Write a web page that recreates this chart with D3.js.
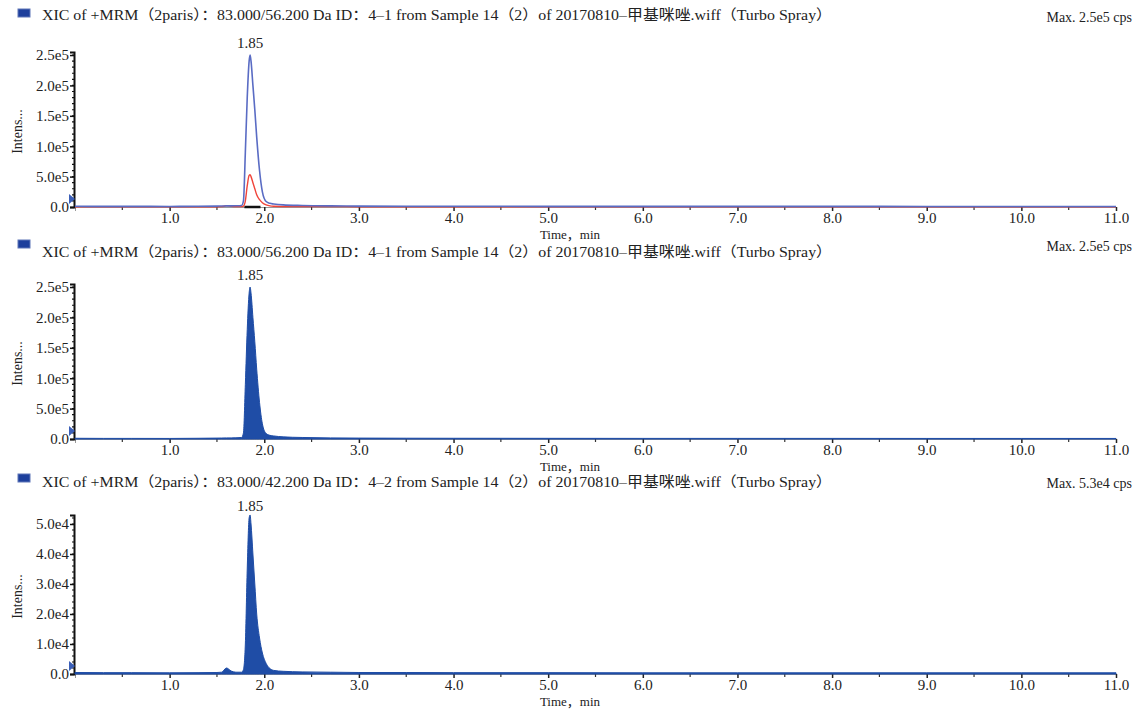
<!DOCTYPE html>
<html>
<head>
<meta charset="utf-8">
<script src="https://cdn.jsdelivr.net/npm/d3@7"></script>
<style>
  body { margin: 0; background: #fff; }
  svg { display: block; }
  text { font-family: "Liberation Serif", "Times New Roman", "DejaVu Serif", "Noto Sans CJK SC", serif; fill: #222; }
</style>
</head>
<body>
<div id="chart"></div>
<script>
// ===============================
// DATA
// ===============================
const headers = [
    "XIC of +MRM（2paris）：83.000/56.200 Da ID：4–1 from Sample 14（2）of 20170810–甲基咪唑.wiff（Turbo Spray）",
    "XIC of +MRM（2paris）：83.000/56.200 Da ID：4–1 from Sample 14（2）of 20170810–甲基咪唑.wiff（Turbo Spray）",
    "XIC of +MRM（2paris）：83.000/42.200 Da ID：4–2 from Sample 14（2）of 20170810–甲基咪唑.wiff（Turbo Spray）"
];
const maxLabels = ["Max. 2.5e5 cps", "Max. 2.5e5 cps", "Max. 5.3e4 cps"];
const peakLabels = ["1.85", "1.85", "1.85"];
const peakTimes = [1.85, 1.85, 1.85];

// retention time, min
const times = [0.0, 0.3, 0.6, 1.0, 1.3, 1.5, 1.55, 1.6, 1.65, 1.7, 1.76, 1.78, 1.80, 1.82, 1.84, 1.85,
    1.86, 1.88, 1.90, 1.92, 1.95, 1.98, 2.02, 2.06, 2.1, 2.2, 2.4, 2.7, 3.0, 3.5, 4.0, 5.0,
    6.0, 7.0, 8.0, 9.0, 10.0, 11.0];

// 83.0/56.2 transition (blue)
const ion562 = [1200, 1000, 1000, 900, 1200, 1500, 1600, 1800, 1800, 2000, 2500, 10000, 90000, 180000, 240000, 250000,
    240000, 200000, 160000, 115000, 60000, 25000, 9000, 6000, 5000, 3500, 2500, 1800, 1500, 1300, 1200, 1100,
    1000, 1000, 1000, 900, 900, 900];

// 83.0/42.2 transition (red)
const ion422 = [500, 450, 450, 400, 450, 500, 600, 2000, 1000, 600, 600, 1500, 10000, 35000, 52000, 53000,
    50000, 40000, 30000, 20000, 12000, 7000, 3500, 1800, 1200, 900, 700, 600, 500, 500, 450, 450,
    400, 400, 400, 400, 400, 400];

const xTicks = [1, 2, 3, 4, 5, 6, 7, 8, 9, 10, 11];
const xTickLabels = ["1.0", "2.0", "3.0", "4.0", "5.0", "6.0", "7.0", "8.0", "9.0", "10.0", "11.0"];
const yTicksA = [0, 50000, 100000, 150000, 200000, 250000];
const yTickLabelsA = ["0.0", "5.0e5", "1.0e5", "1.5e5", "2.0e5", "2.5e5"];
const yTicksB = [0, 10000, 20000, 30000, 40000, 50000];
const yTickLabelsB = ["0.0", "1.0e4", "2.0e4", "3.0e4", "4.0e4", "5.0e4"];

// ===============================
// LAYOUT
// ===============================
const W = 1139, H = 712;
const blueLine = "#5a6cc4";
const redLine = "#f0443a";
const blueFill = "#1f4da6";

const panels = [
    { head: 20,  icon: 9,   maxY: 22,  base: 207, yMax: 255000, yTop: 52,  ticks: yTicksA, labels: yTickLabelsA, minor: 10000, mode: "lines" },
    { head: 257, icon: 240, maxY: 251, base: 439, yMax: 255000, yTop: 284, ticks: yTicksA, labels: yTickLabelsA, minor: 10000, mode: "fill", series: ion562 },
    { head: 487, icon: 474, maxY: 488, base: 674, yMax: 53000,  yTop: 515, ticks: yTicksB, labels: yTickLabelsB, minor: 2000,  mode: "fill", series: ion422 }
];

const svg = d3.select("#chart").append("svg")
    .attr("width", W)
    .attr("height", H);

const x = d3.scaleLinear().domain([0, 11]).range([75, 1116]);

panels.forEach((p, i) => {
    const g = svg.append("g");
    const y = d3.scaleLinear().domain([0, p.yMax]).range([p.base, p.yTop]);

    // header
    g.append("rect")
        .attr("x", 18).attr("y", p.icon)
        .attr("width", 12).attr("height", 8)
        .attr("fill", "#1d3f9c").attr("stroke", "#5f76b8").attr("stroke-width", 1);
    g.append("text")
        .attr("x", 42).attr("y", p.head)
        .attr("font-size", 14.5)
        .attr("textLength", 790)
        .attr("lengthAdjust", "spacingAndGlyphs")
        .text(headers[i]);
    g.append("text")
        .attr("x", 1132).attr("y", p.maxY)
        .attr("text-anchor", "end")
        .attr("font-size", 14)
        .text(maxLabels[i]);

    // x axis
    const xAxis = d3.axisBottom(x)
        .tickValues(xTicks)
        .tickFormat((d, k) => xTickLabels[k])
        .tickSize(4).tickPadding(1);
    const gx = g.append("g")
        .attr("transform", `translate(0,${p.base})`)
        .call(xAxis);
    gx.select(".domain").attr("stroke", "#999");
    gx.selectAll(".tick line").attr("stroke", "#222").attr("stroke-width", 1.5);
    gx.selectAll(".tick text").attr("font-size", 15).attr("font-family", null).attr("fill", "#222");
    // minor x ticks at half minutes
    g.append("g").selectAll("line")
        .data(d3.range(0.5, 11, 1))
        .join("line")
        .attr("x1", d => x(d)).attr("x2", d => x(d))
        .attr("y1", p.base).attr("y2", p.base + 3)
        .attr("stroke", "#333").attr("stroke-width", 1.2);

    g.append("text")
        .attr("x", 570).attr("y", p.base + 32)
        .attr("text-anchor", "middle")
        .attr("font-size", 13)
        .text("Time，min");

    // y axis
    const yAxis = d3.axisLeft(y)
        .tickValues(p.ticks)
        .tickFormat((d, k) => p.labels[k])
        .tickSize(4).tickPadding(1);
    const gy = g.append("g")
        .attr("transform", `translate(${x(0) - 1},0)`)
        .call(yAxis);
    gy.select(".domain").attr("stroke", "#111").attr("stroke-width", 2);
    gy.selectAll(".tick line").attr("stroke", "#111").attr("stroke-width", 1.5);
    gy.selectAll(".tick text").attr("font-size", 15).attr("font-family", null).attr("fill", "#222");
    g.append("g").selectAll("line")
        .data(d3.range(p.minor, p.yMax, p.minor))
        .join("line")
        .attr("x1", x(0) - 3).attr("x2", x(0) - 1)
        .attr("y1", d => y(d)).attr("y2", d => y(d))
        .attr("stroke", "#111").attr("stroke-width", 1.2);

    g.append("text")
        .attr("transform", `translate(22,${(p.base + p.yTop) / 2 + 2}) rotate(-90)`)
        .attr("text-anchor", "middle")
        .attr("font-size", 14)
        .text("Intens...");

    // left marker
    g.append("path")
        .attr("d", `M${x(0) - 6},${p.base - 13} L${x(0)},${p.base - 8} L${x(0) - 6},${p.base - 3} Z`)
        .attr("fill", "#3b5fb8");

    const pts = times.map((t, k) => ({ t, k }));

    if (p.mode === "lines") {
        // integration baseline
        g.append("line")
            .attr("x1", x(1.79)).attr("x2", x(1.96))
            .attr("y1", p.base).attr("y2", p.base)
            .attr("stroke", "#111").attr("stroke-width", 2.5);
        const lineOf = arr => d3.line()
            .x(d => x(d.t))
            .y(d => y(arr[d.k]))
            .curve(d3.curveMonotoneX);
        g.append("path").datum(pts)
            .attr("d", lineOf(ion422))
            .attr("fill", "none").attr("stroke", redLine).attr("stroke-width", 1.4);
        g.append("path").datum(pts)
            .attr("d", lineOf(ion562))
            .attr("fill", "none").attr("stroke", blueLine).attr("stroke-width", 1.6);
    } else {
        const area = d3.area()
            .x(d => x(d.t))
            .y0(p.base)
            .y1(d => y(p.series[d.k]))
            .curve(d3.curveMonotoneX);
        g.append("path").datum(pts)
            .attr("d", area)
            .attr("fill", blueFill).attr("stroke", blueFill).attr("stroke-width", 1);
    }

    // peak label
    g.append("text")
        .attr("x", x(peakTimes[i])).attr("y", p.yTop - 4)
        .attr("text-anchor", "middle")
        .attr("font-size", 15)
        .text(peakLabels[i]);
});
</script>
</body>
</html>
